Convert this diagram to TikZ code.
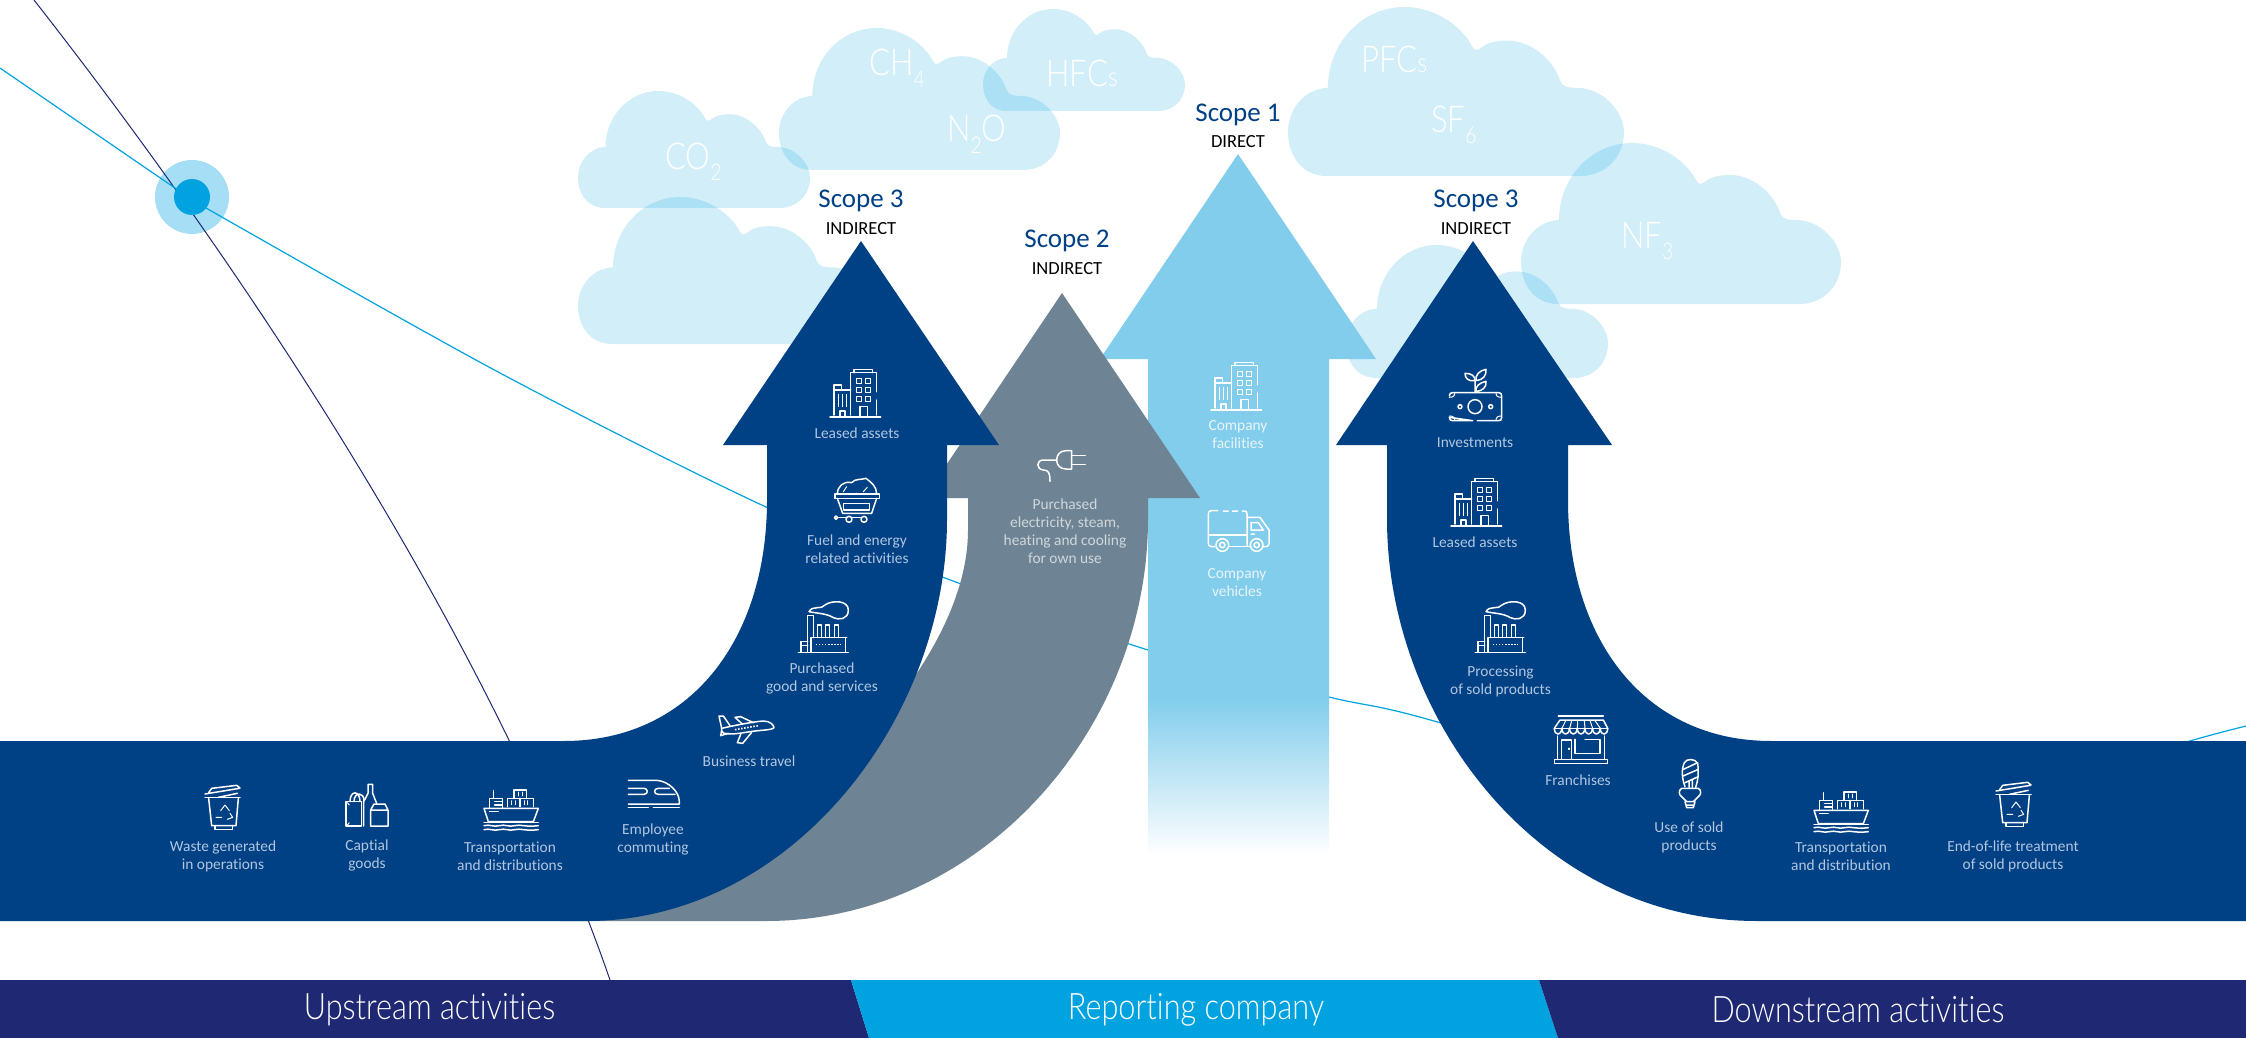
\documentclass[tikz,border=0pt]{standalone}
\usepackage{fontspec}
\setmainfont[Ligatures=NoCommon]{Carlito}
\newfontfamily\lightwide[Ligatures=NoCommon,FakeStretch=0.84]{Lato Light}
\usetikzlibrary{calc}
\definecolor{arrowdark}{HTML}{004085}
\definecolor{slategrey}{HTML}{6E8494}
\definecolor{skyarrow}{HTML}{82CDEC}
\definecolor{barnavy}{HTML}{1E2873}
\definecolor{barblue}{HTML}{00A3E0}
\definecolor{halo}{HTML}{A6DEF5}
\definecolor{labdark}{HTML}{B2C6DF}
\definecolor{labgrey}{HTML}{CFD7DD}
\definecolor{labsky}{HTML}{E8F5FB}
\tikzset{
  cloudfill/.style={fill=barblue,fill opacity=0.175,draw=none},
  ico/.style={draw=white,line width=1.5pt,line cap=round,line join=round},
  lab/.style={inner sep=0,align=center,text=labdark,font=\fontsize{15.4}{18}\selectfont},
  labg/.style={lab,text=labgrey},
  labs/.style={lab,text=labsky},
  scopehead/.style={inner sep=0,text=arrowdark,font=\fontsize{27}{30}\selectfont},
  scopesub/.style={inner sep=0,text=black,font=\fontsize{18.5}{20}\selectfont},
  gas/.style={inner sep=0,anchor=base west,text=white,font=\lightwide\fontsize{37}{40}\selectfont},
  barlabel/.style={inner sep=0,text=white,font=\lightwide\fontsize{36.5}{40}\selectfont},
  bldg/.pic={
    \draw[ico] (150,201)--(302,201);
    \draw[ico] (212,195)--(212,68)--(290,68)--(290,125) (290,150)--(290,195);
    \draw[ico] (222,68)--(222,58)--(278,58)--(278,68);
    \foreach \a in {228,255}{\foreach \b in {85,112,138}{\draw[ico,line width=1pt] (\a,\b) rectangle ++(15,15);}}
    \draw[ico] (162,195)--(162,105)--(185,105)--(185,120) (162,120)--(212,120);
    \draw[ico,line width=1pt] (175,133)--(175,170) (188,133)--(188,170) (200,133)--(200,170);
    \draw[ico] (180,198)--(180,183)--(195,183)--(195,198) (240,198)--(240,170)--(262,170)--(262,198);
  },
  cartpic/.pic={
    \draw[ico] (165,432) rectangle (298,445);
    \draw[ico] (172,445)--(188,490)--(275,490)--(290,445);
    \draw[ico] (190,460) rectangle (268,480);
    \draw[ico] (207,508) circle (9) (252,508) circle (9) (168,503) circle (5);
    \draw[ico] (175,503)--(198,503) (216,503)--(243,503);
    \draw[ico] (172,432) .. controls (172,410) and (190,392) .. (215,398) .. controls (225,385) and (245,390) .. (258,385) .. controls (275,398) and (290,410) .. (290,432);
    \draw[ico,line width=1pt] (190,425)--(200,410) (250,425)--(262,412) (228,430)--(232,430);
  },
  plugpic/.pic={
    \draw[ico] (875,302)--(858,302) .. controls (840,302) and (830,315) .. (830,330) .. controls (830,345) and (840,357) .. (858,357)--(875,357)--cycle;
    \draw[ico] (875,316)--(916,316) (875,343)--(916,343);
    \draw[ico] (830,330)--(790,330) .. controls (768,330) and (768,358) .. (790,360) .. controls (805,360) and (810,368) .. (810,394);
  },
  trashpic/.pic={
    \draw[ico] (176,115)--(185,197)--(258,197)--(265,115);
    \draw[ico] (165,113)--(270,113);
    \draw[ico] (195,197)--(195,208)--(248,208)--(248,197);
    \draw[ico] (165,102)--(268,85) (185,85)--(260,76)--(270,84) (185,85)--(176,98) (205,112)--(262,100);
    \draw[ico,line width=1pt] (212,152)--(225,135)--(238,152) (198,172)--(215,172) (232,178)--(248,172)--(240,160);
  },
  goodspic/.pic={
    \draw[ico] (588,125) rectangle (635,198);
    \draw[ico] (600,125) .. controls (600,90) and (630,90) .. (630,125) (612,125) .. controls (612,95) and (642,95) .. (642,122);
    \draw[ico] (641,198)--(641,125)--(654,100)--(654,73)--(668,73)--(668,100)--(680,130);
    \draw[ico] (662,198)--(662,150)--(672,132)--(705,132)--(714,150)--(714,198)--cycle (662,150)--(714,150);
    \draw[ico,line width=1pt] (592,128)--(598,135) (592,195)--(598,188);
  },
  shippic/.pic={
    \draw[ico] (1002,145)--(1015,185)--(1150,185)--(1165,145)--cycle;
    \draw[ico] (1072,140)--(1072,115)--(1150,115)--(1150,140) (1110,115)--(1110,140);
    \draw[ico] (1092,115)--(1092,90)--(1130,90)--(1130,115);
    \draw[ico] (1018,145)--(1018,115)--(1058,115)--(1058,145) (1034,125)--(1058,125)--(1058,135)--(1034,135);
    \draw[ico] (1030,115)--(1030,92);
    \draw[ico,line width=1pt] (1018,155)--(1045,155);
    \foreach \x in {1085,1095,1122,1132}{\draw[ico,line width=.8pt] (\x,122)--(\x,134);}
    \foreach \x in {1105,1117}{\draw[ico,line width=.8pt] (\x,96)--(\x,108);}
    \draw[ico] (1002,187)--(1165,187);
    \foreach \y in {197,209}{\draw[ico] (1002,\y) .. controls (1020,\y-5) and (1030,\y+5) .. (1048,\y) .. controls (1066,\y-5) and (1076,\y+5) .. (1094,\y) .. controls (1112,\y-5) and (1124,\y+5) .. (1165,\y);}
  },
  trainpic/.pic={
    \draw[ico] (25,226)--(110,226) .. controls (145,228) and (178,260) .. (178,290)--(178,297)--(25,297);
    \draw[ico] (25,250)--(72,250) .. controls (85,250) and (85,268) .. (72,268)--(25,268);
    \draw[ico] (165,268)--(115,268) .. controls (100,268) and (100,250) .. (115,250)--(148,250);
    \draw[ico] (25,307)--(85,307) (100,307)--(178,307);
  },
  planepic/.pic={
    \draw[ico] (305,70) .. controls (340,62) and (400,50) .. (430,48) .. controls (450,48) and (462,60) .. (462,68) .. controls (455,76) and (420,75) .. (390,80) .. controls (360,85) and (330,90) .. (310,84) .. controls (304,80) and (303,74) .. (305,70);
    \draw[ico] (330,62)--(310,33)--(297,33)--(305,70);
    \draw[ico] (305,76)--(302,92)--(325,85);
    \draw[ico] (400,53)--(362,35)--(345,37)--(368,58);
    \draw[ico] (395,82)--(368,115)--(352,113)--(362,88);
    \draw[ico,line width=1.6pt,dash pattern=on 1.5pt off 1.6pt,line cap=butt] (345,74)--(415,62);
  },
  factorypic/.pic={
    \draw[ico] (40,173)--(190,173);
    \draw[ico] (68,170)--(68,62)--(85,62)--(85,128);
    \draw[ico] (78,128)--(185,128) (78,128)--(78,170) (182,128)--(182,170);
    \foreach \a in {98,122,148}{\draw[ico] (\a,125)--(\a,90)--(\a+12,90)--(\a+12,125);}
    \draw[ico,line width=1.6pt,dash pattern=on 1.5pt off 1.6pt,line cap=butt] (92,148)--(168,148);
    \draw[ico] (48,170)--(48,140)--(68,140) (48,152)--(68,152);
    \draw[ico] (72,50) .. controls (82,30) and (110,45) .. (120,30) .. controls (140,15) and (190,15) .. (190,45) .. controls (190,75) and (160,75) .. (145,68) .. controls (125,55) and (95,55) .. (72,50);
  },
  storepic/.pic={
    \draw[ico] (40,18)--(175,18);
    \draw[ico] (45,30)--(175,30) (45,30)--(28,55) (175,30)--(188,55);
    \foreach \a in {28,51,74,97,120,143,166}{\draw[ico] (\a,55) .. controls (\a,78) and (\a+22,78) .. (\a+22,55);}
    \draw[ico] (28,55)--(188,55);
    \foreach \a/\b in {51/62,74/80,97/98,120/118,143/135,166/150}{\draw[ico,line width=1pt] (\a,55)--(\b,32);}
    \draw[ico] (38,78)--(38,148) (178,78)--(178,148);
    \draw[ico] (28,148) rectangle (188,160);
    \draw[ico] (50,148)--(50,90)--(80,90)--(80,148);
    \draw[ico] (90,88)--(90,130)--(165,130)--(165,88)--(120,88);
    \draw[ico] (72,115)--(72,118);
  },
  bulbpic/.pic={
    \draw[ico] (420,230) .. controls (405,190) and (415,165) .. (418,158) .. controls (425,145) and (450,145) .. (458,160) .. controls (462,190) and (458,215) .. (452,232);
    \draw[ico] (415,178)--(458,158) (414,198)--(460,178) (420,218)--(460,200) (432,232)--(432,212) (442,232)--(442,208);
    \draw[ico] (410,235)--(460,235) .. controls (470,240) and (468,255) .. (462,258)--(445,275)--(425,275)--(408,258) .. controls (402,255) and (400,240) .. (410,235);
    \draw[ico] (420,275)--(425,293)--(445,293)--(450,275) (422,285)--(448,285);
  },
  truckpic/.pic={
    \draw[ico] (60,140)--(50,140) .. controls (42,140) and (40,136) .. (40,130)--(40,42) .. controls (40,34) and (44,32) .. (50,32)--(68,32);
    \draw[ico] (85,33)--(100,33) (112,33)--(128,33) (142,33)--(148,33) .. controls (154,33) and (156,36) .. (156,42)--(156,140);
    \draw[ico] (40,105)--(156,105) (102,140)--(165,140);
    \draw[ico] (156,52)--(195,52)--(222,90)--(222,132) .. controls (222,138) and (218,140) .. (205,140);
    \draw[ico] (168,68)--(190,68)--(205,90)--(168,90)--cycle (168,102)--(178,102);
    \draw[ico] (82,135) circle (19) (82,135) circle (8) (185,135) circle (19) (185,135) circle (8);
  },
  moneypic/.pic={
    \draw[ico] (28,108) .. controls (28,100) and (32,98) .. (38,98)--(175,98) .. controls (182,98) and (185,100) .. (185,108)--(185,172) .. controls (185,180) and (182,182) .. (175,182)--(112,182) (98,182)--(38,182) .. controls (32,182) and (28,180) .. (28,172)--cycle;
    \draw[ico] (105,140) circle (21) (60,140) circle (6) (152,140) circle (6);
    \draw[ico,line width=1pt] (28,112) .. controls (40,112) and (44,108) .. (44,98) (185,112) .. controls (172,112) and (168,108) .. (168,98) (28,168) .. controls (40,168) and (44,172) .. (44,182) (185,168) .. controls (172,168) and (168,172) .. (168,182);
    \draw[ico] (105,98)--(105,62) .. controls (85,65) and (75,55) .. (75,40) .. controls (95,40) and (105,48) .. (105,62);
    \draw[ico] (108,62) .. controls (105,45) and (118,32) .. (138,28) .. controls (140,48) and (128,60) .. (108,62);
    \draw[ico] (108,95) .. controls (105,80) and (118,68) .. (138,64) .. controls (140,82) and (128,92) .. (108,95);
  }
}
\newcommand{\cloudat}[4]{%
  \begin{scope}[shift={(#1,#2)},xscale=#3/320,yscale=#4/161]
  \fill[cloudfill] (37,161) .. controls (12,161) and (0,140) .. (0,119)
    .. controls (0,98) and (15,78) .. (38,77)
    .. controls (38,35) and (70,0) .. (111,0)
    .. controls (140,0) and (165,18) .. (175,37)
    .. controls (178,43) and (181,41) .. (185,38)
    .. controls (192,33) and (200,32) .. (209,32)
    .. controls (235,32) and (255,55) .. (259,70)
    .. controls (262,77) and (268,77) .. (275,77)
    .. controls (300,77) and (320,100) .. (320,119)
    .. controls (320,145) and (300,161) .. (279,161) -- cycle;
  \end{scope}}
\newcommand{\gsub}[1]{\raisebox{-0.3em}{\fontsize{23}{23}\selectfont #1}}
\newcommand{\gsmall}[1]{{\fontsize{27}{27}\selectfont #1}}
\begin{document}
\begin{tikzpicture}[x=1pt,y=-1pt]
\useasboundingbox (0,0) rectangle (2246,1038);
\fill[white] (0,0) rectangle (2246,1038);
% clouds
\cloudat{578}{91}{232}{117}
\cloudat{779}{28}{281}{142}
\cloudat{983}{9}{202}{102}
\cloudat{578}{197}{295}{147}
\cloudat{1288}{7}{336}{169}
\cloudat{1521}{143}{320}{161}
\cloudat{1346}{245}{262}{133}
% halo and lines
\fill[halo] (192,197) circle (37);
\coordinate (hub) at (192,197);
\draw[barnavy,line width=1pt] (34,0) .. controls (294,332) and (510,690) .. (610,980);
\draw[barblue,line width=1.2pt] plot[smooth,tension=0.5] coordinates {(0,68) (175,188) (206,208) (500,373) (766,507) (945,578) (1148,650) (1329,697) (1434,721) (1800,830) (2050,785) (2183,743) (2246,726)};
\fill[barblue] (hub) circle (18);
% sky arrow
\fill[skyarrow] (1238,154) -- (1376,359) -- (1329,359) -- (1329,699) -- (1148,699) -- (1148,359) -- (1100,359) -- cycle;
\shade[top color=skyarrow,bottom color=white] (1148,698.5) rectangle (1329,855);
% grey arrow
\fill[slategrey] (1062,293) -- (1200,498) -- (1148,498) -- (1148,519)
  .. controls (1148,730) and (980,921) .. (766,921) -- (560,921) -- (740,860)
  .. controls (860,760) and (968,640) .. (968,530) -- (968,498) -- (924,498) -- cycle;
% left dark arrow
\fill[arrowdark] (861,241) -- (999,445) -- (947,445) -- (947,519)
  .. controls (947,720) and (790,921) .. (587,921) -- (0,921) -- (0,741) -- (564,741)
  .. controls (690,741) and (767,640) .. (767,500) -- (767,445) -- (723,445) -- cycle;
% right dark arrow
\fill[arrowdark] (1473,241) -- (1612,445) -- (1568,445) -- (1568,500)
  .. controls (1568,640) and (1645,741) .. (1771,741) -- (2246,741) -- (2246,921) -- (1757,921)
  .. controls (1540,921) and (1387,720) .. (1387,519) -- (1387,445) -- (1336,445) -- cycle;
% bars
\fill[barnavy] (0,980) -- (851,980) -- (869,1038) -- (0,1038) -- cycle;
\fill[barblue] (851,980) -- (1539,980) -- (1558,1038) -- (869,1038) -- cycle;
\fill[barnavy] (1539,980) -- (2246,980) -- (2246,1038) -- (1558,1038) -- cycle;
\node[barlabel] (up) at (429.5,1010) {Upstream activities};
\node[barlabel] (rep) at (1196,1010) {Reporting company};
\node[barlabel] (down) at (1858,1010) {Downstream activities};
% gases
\node[gas] (g1) at (665,169) {CO\gsub{2}};
\node[gas] (g2) at (869,76) {CH\gsub{4}};
\node[gas] (g3) at (947,142) {N\gsub{2}O};
\node[gas] (g4) at (1046,87) {HFC\gsmall{s}};
\node[gas] (g5) at (1361,73) {PFC\gsmall{s}};
\node[gas] (g6) at (1431,132) {SF\gsub{6}};
\node[gas] (g7) at (1621,248) {NF\gsub{3}};
% scope titles
\node[scopehead] (s3l) at (861,201) {Scope 3};
\node[scopesub] (i3l) at (861,229) {INDIRECT};
\node[scopehead] (s2) at (1067,241) {Scope 2};
\node[scopesub] (i2) at (1067,268.5) {INDIRECT};
\node[scopehead] (s1) at (1238,115) {Scope 1};
\node[scopesub] (i1) at (1238,141.5) {DIRECT};
\node[scopehead] (s3r) at (1476,201) {Scope 3};
\node[scopesub] (i3r) at (1476,229) {INDIRECT};
% labels
\node[lab] (a1) at (857,433) {Leased assets};
\node[lab] (a2) at (857,549.5) {Fuel and energy\\related activities};
\node[lab] (a3) at (822,678.5) {Purchased\\good and services};
\node[lab] (a4) at (749,761) {Business travel};
\node[lab] (a5) at (653,839) {Employee\\commuting};
\node[lab] (a6) at (510,856) {Transportation\\and distributions};
\node[lab] (a7) at (367,855.5) {Captial\\goods};
\node[lab] (a8) at (223,856) {Waste generated\\in operations};
\node[labg] (b1) at (1065,531) {Purchased\\electricity, steam,\\heating and cooling\\for own use};
\node[labs] (c1) at (1238,434.5) {Company\\facilities};
\node[labs] (c2) at (1237,583) {Company\\vehicles};
\node[lab] (d1) at (1475,443) {Investments};
\node[lab] (d2) at (1475,542.5) {Leased assets};
\node[lab] (d3) at (1500.5,681) {Processing\\of sold products};
\node[lab] (d4) at (1578,780) {Franchises};
\node[lab] (d5) at (1689,837.5) {Use of sold\\products};
\node[lab] (d6) at (1841,856.5) {Transportation\\and distribution};
\node[lab] (d7) at (2013,856.5) {End-of-life treatment\\of sold products};
% icons
\pic[scale=1/3] at (780,350) {bldg};
\pic[scale=1/3] at (1161,343) {bldg};
\pic[scale=1/3] at (1401,459) {bldg};
\pic[scale=1/3] at (780,350) {cartpic};
\pic[scale=1/3] at (780,350) {plugpic};
\pic[scale=1/3] at (150,760) {trashpic};
\pic[scale=1/3] at (1941,757) {trashpic};
\pic[scale=1/3] at (150,760) {goodspic};
\pic[scale=1/3] at (150,760) {shippic};
\pic[scale=1/3] at (1480,762) {shippic};
\pic[scale=1/3] at (620,705) {trainpic};
\pic[scale=1/3] at (620,705) {planepic};
\pic[scale=1/3] at (785,595) {factorypic};
\pic[scale=1/3] at (1462,595) {factorypic};
\pic[scale=1/3] at (1545,710) {storepic};
\pic[scale=1/3] at (1545,710) {bulbpic};
\pic[scale=1/3] at (1195,500) {truckpic};
\pic[scale=1/3] at (1440,360) {moneypic};
\end{tikzpicture}
\end{document}
